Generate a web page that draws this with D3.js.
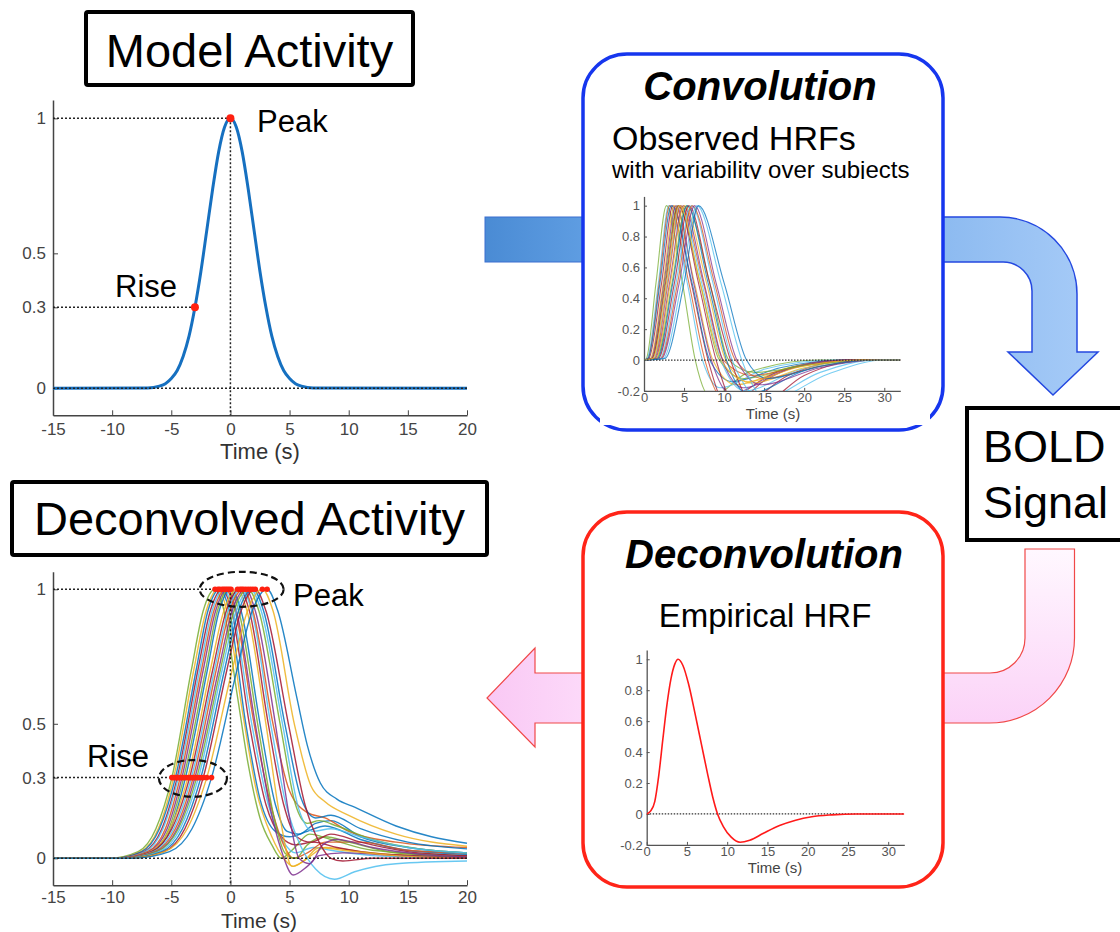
<!DOCTYPE html>
<meta charset="utf-8">
<html>
<body style="margin:0;background:#fff">
<div id="chartContainer"></div>
<script src="https://cdn.jsdelivr.net/npm/d3@7"></script>
<script type="text/javascript">

  // ---- data ----
  var mainXTicks = [-15, -10, -5, 0, 5, 10, 15, 20];
  var mainYTicks = [0, 0.3, 0.5, 1];
  var insetXTicks = [0, 5, 10, 15, 20, 25, 30];
  var insetYTicks = [-0.2, 0, 0.2, 0.4, 0.6, 0.8, 1];

  // model activity (gaussian-like bump)
  var modelT = [-15,-7,-6,-5.5,-5,-4.5,-4,-3.5,-3,-2.5,-2,-1.5,-1,-0.5,0,0.5,1,1.5,2,2.5,3,3.5,4,4.5,5,5.5,6,7,20];
  var modelV = [0,0.001,0.008,0.017,0.036,0.066,0.118,0.193,0.3,0.432,0.585,0.739,0.875,0.967,1,0.967,0.875,0.739,0.585,0.432,0.3,0.193,0.118,0.066,0.036,0.017,0.008,0.001,0];
  var modelMarks = [[0, 1], [-3, 0.3]];

  var C = {blue:"#0072BD", orange:"#D95319", yellow:"#EDB120", purple:"#7E2F8E",
           green:"#77AC30", cyan:"#4DBEEE", red:"#A2142F"};

  // deconvolved activity, one line per subject
  var deconvColors = ["green","yellow","blue","red","cyan","orange","purple","green","blue","yellow",
                      "red","cyan","orange","purple","green","cyan","blue","red","yellow","blue"];
  var deconvCurves = [
    [[-15,0],[-10.3,0],[-7.8,0.025],[-6.3,0.11],[-4.95,0.3],[-3.3,0.7],[-2.3,0.92],[-1.3,1],[-0.6,0.93],[0.6,0.6],[1.5,0.35],[2.5,0.15],[3.5,0.05],[4.3,0],[5.2,0.03],[6.7,0.09],[8.5,0.07],[12,0.03],[20,0.01]],
    [[-15,0],[-10.1,0],[-7.6,0.025],[-6.1,0.11],[-4.8,0.3],[-3.1,0.7],[-2.05,0.92],[-1.05,1],[-0.3,0.92],[1.0,0.55],[2.2,0.25],[3.5,0.08],[4.5,0],[5.3,-0.03],[6.5,0],[8,0.04],[12,0.02],[20,0.005]],
    [[-15,0],[-10,0],[-7.5,0.025],[-6,0.11],[-4.65,0.3],[-2.9,0.7],[-1.9,0.92],[-0.9,1],[-0.1,0.92],[1.3,0.5],[2.5,0.22],[3.8,0.1],[5,0.08],[6.5,0.1],[8,0.12],[11,0.07],[15,0.03],[20,0.015]],
    [[-15,0],[-9.8,0],[-7.3,0.025],[-5.8,0.11],[-4.5,0.3],[-2.75,0.7],[-1.7,0.92],[-0.7,1],[0.1,0.92],[1.6,0.5],[3,0.2],[4.3,0.08],[5.5,0.05],[7,0.06],[9,0.04],[13,0.015],[20,0.005]],
    [[-15,0],[-9.7,0],[-7.2,0.025],[-5.7,0.11],[-4.4,0.3],[-2.6,0.7],[-1.55,0.92],[-0.55,1],[0.2,0.92],[1.8,0.5],[3.2,0.2],[4.5,0.06],[5.5,0.02],[7,0.04],[8.5,0.03],[12,0.01],[20,0]],
    [[-15,0],[-9.6,0],[-7,0.025],[-5.5,0.11],[-4.25,0.3],[-2.45,0.7],[-1.4,0.92],[-0.4,1],[0.4,0.92],[2,0.5],[3.4,0.2],[4.5,0.05],[5.3,0],[6.5,0.02],[8,0.06],[11,0.06],[15,0.03],[20,0.02]],
    [[-15,0],[-9.4,0],[-6.9,0.025],[-5.35,0.11],[-4.1,0.3],[-2.3,0.7],[-1.25,0.92],[-0.25,1],[0.5,0.92],[2.1,0.5],[3.3,0.2],[4.3,0.03],[5.3,-0.062],[6.5,-0.03],[7.5,0.01],[9.5,0.02],[14,0.01],[20,0.003]],
    [[-15,0],[-9.3,0],[-6.7,0.025],[-5.2,0.11],[-3.95,0.3],[-2.1,0.7],[-1.1,0.92],[-0.1,1],[0.7,0.92],[2.3,0.5],[3.7,0.15],[4.6,0.02],[5.5,0],[6.5,0.05],[8,0.08],[10,0.06],[14,0.02],[20,0.005]],
    [[-15,0],[-9.1,0],[-6.6,0.025],[-5.05,0.11],[-3.8,0.3],[-1.95,0.7],[-0.95,0.92],[0.05,1],[0.9,0.92],[2.5,0.5],[3.8,0.2],[4.8,0.1],[5.8,0.09],[7.2,0.13],[8.5,0.14],[11,0.08],[15,0.04],[20,0.02]],
    [[-15,0],[-9.6,0],[-6.8,0.025],[-5.1,0.11],[-3.6,0.3],[-1.7,0.7],[-0.55,0.92],[0.6,1],[1.4,0.92],[3,0.5],[4.2,0.15],[5.2,-0.03],[6.2,-0.01],[7.5,0.04],[9.5,0.03],[14,0.01],[20,0]],
    [[-15,0],[-9.6,0],[-6.7,0.025],[-4.95,0.11],[-3.45,0.3],[-1.5,0.7],[-0.35,0.92],[0.8,1],[1.6,0.92],[3.2,0.5],[4.5,0.2],[5.6,0.08],[6.8,0.06],[8.5,0.09],[11,0.06],[15,0.025],[20,0.01]],
    [[-15,0],[-9.4,0],[-6.5,0.025],[-4.8,0.11],[-3.3,0.3],[-1.35,0.7],[-0.2,0.92],[0.95,1],[1.8,0.92],[3.4,0.5],[4.7,0.2],[6,0.04],[7.2,-0.04],[8.8,-0.078],[10.5,-0.05],[14,-0.02],[20,-0.01]],
    [[-15,0],[-9.3,0],[-6.4,0.025],[-4.65,0.11],[-3.15,0.3],[-1.2,0.7],[-0.05,0.92],[1.1,1],[1.9,0.92],[3.6,0.5],[5,0.25],[6.5,0.17],[8,0.15],[10,0.1],[14,0.06],[20,0.04]],
    [[-15,0],[-9.1,0],[-6.25,0.025],[-4.5,0.11],[-3,0.3],[-1,0.7],[0.15,0.92],[1.3,1],[2.1,0.92],[3.8,0.5],[5,0.15],[5.8,0],[6.7,-0.02],[7.8,0.05],[9,0.07],[12,0.04],[16,0.015],[20,0.005]],
    [[-15,0],[-9.1,0],[-6.2,0.025],[-4.4,0.11],[-2.85,0.3],[-0.85,0.7],[0.3,0.92],[1.5,1],[2.4,0.92],[4.2,0.5],[5.5,0.2],[6.5,0.13],[7.5,0.14],[9,0.12],[12,0.07],[16,0.035],[20,0.02]],
    [[-15,0],[-9,0],[-6,0.025],[-4.25,0.11],[-2.7,0.3],[-0.7,0.7],[0.5,0.92],[1.7,1],[2.6,0.92],[4.4,0.5],[5.8,0.18],[7,0.1],[8.5,0.11],[11,0.08],[15,0.04],[20,0.02]],
    [[-15,0],[-8.8,0],[-5.8,0.025],[-4.05,0.11],[-2.5,0.3],[-0.5,0.7],[0.7,0.92],[1.9,1],[2.8,0.92],[4.6,0.5],[6,0.22],[7.2,0.15],[8.5,0.16],[11,0.11],[15,0.06],[20,0.035]],
    [[-15,0],[-8.6,0],[-5.6,0.025],[-3.85,0.11],[-2.3,0.3],[-0.3,0.7],[0.9,0.92],[2.1,1],[3,0.92],[4.9,0.5],[6.3,0.2],[7.5,0.06],[8.5,0],[9.5,-0.01],[12,0],[20,0]],
    [[-15,0],[-8.7,0],[-5.55,0.025],[-3.65,0.11],[-2,0.3],[0.15,0.7],[1.45,0.92],[2.7,1],[3.6,0.92],[5.4,0.5],[6.8,0.27],[8,0.21],[10,0.16],[14,0.09],[20,0.045]],
    [[-15,0],[-8.3,0],[-5.15,0.025],[-3.25,0.11],[-1.6,0.3],[0.55,0.7],[1.85,0.92],[3.1,1],[4,0.92],[5.6,0.6],[6.5,0.42],[7.6,0.28],[9,0.22],[10.5,0.19],[14,0.12],[17,0.08],[20,0.056]]
  ];

  // observed HRFs: landmark times per subject
  // [onset, half-rise, peak, half-fall, zero cross, min time, min value, recovery time, recovery value, back to 0]
  var hrfLevels = [0.01, 0.5, 1, 0.5, 0];
  var hrfColors = ["green","cyan","orange","red","blue","yellow","purple","green","red","cyan","orange",
                   "purple","yellow","green","blue","red","cyan","orange","purple","cyan","blue","yellow"];
  var hrfRows = [
    [0.3,1.5,2.8,4.8,6.4,8.3,-0.24,13,-0.08,22],
    [0.4,1.8,3.1,5.4,7.3,9.5,-0.18,15,-0.06,24],
    [0.5,1.9,3.2,5.6,7.6,10,-0.26,16,-0.09,25],
    [0.6,2.2,3.6,5.9,8.0,10.4,-0.3,16,-0.1,25],
    [0.5,2.0,3.4,6.0,8.2,11,-0.14,17,-0.05,25],
    [0.8,2.4,3.8,6.3,8.6,11.5,-0.16,18,-0.05,26],
    [0.9,2.5,4.0,6.2,8.4,10.8,-0.22,17,-0.07,25],
    [1.0,2.6,4.2,7.0,9.4,12.5,-0.12,19,-0.04,27],
    [1.0,2.7,4.3,6.8,9.0,11.6,-0.3,18,-0.1,26],
    [1.2,2.9,4.5,7.2,9.6,12.6,-0.2,19,-0.07,27],
    [1.3,3.0,4.6,7.4,9.9,13.5,-0.1,20,-0.035,27],
    [1.4,3.2,4.9,7.5,9.8,12.4,-0.18,18,-0.06,26],
    [1.5,3.3,5.0,7.8,10.2,13.4,-0.15,20,-0.05,28],
    [1.6,3.5,5.3,8.2,10.6,13.8,-0.08,21,-0.03,28],
    [1.7,3.6,5.4,8.0,10.3,13.0,-0.22,20,-0.07,28],
    [1.8,3.8,5.6,8.2,10.8,14.0,-0.3,20,-0.1,28],
    [2.0,4.0,5.9,8.6,11.0,14.8,-0.25,22,-0.08,29],
    [2.1,4.2,6.0,8.8,11.4,15,-0.12,22,-0.04,29],
    [2.2,4.4,6.3,9.0,11.6,14.6,-0.16,22,-0.05,29],
    [2.4,4.7,6.6,9.6,12.2,15.5,-0.26,23,-0.09,30],
    [2.6,5.0,6.8,10.0,12.8,15.4,-0.12,22,-0.04,29],
    [1.1,2.8,4.4,7.0,9.6,13,-0.14,19,-0.05,27]
  ];

  // empirical (canonical) HRF
  var empT = [0,0.5,1,1.5,2,2.5,3,3.5,3.9,4.5,5.2,6,6.8,7.6,8.2,8.8,9.5,10.5,11.6,12.8,14.5,16.5,18.5,20.5,23,26,32];
  var empV = [0,0.02,0.08,0.25,0.48,0.7,0.87,0.97,1,0.96,0.84,0.65,0.45,0.25,0.11,0,-0.08,-0.15,-0.183,-0.17,-0.125,-0.075,-0.04,-0.018,-0.006,0,0];

  var FONT = "'Liberation Sans', Arial, Helvetica, sans-serif";

  var svg = d3.select("#chartContainer").append("svg")
    .attr("width", 1120).attr("height", 932)
    .style("font-family", FONT)
    .style("background", "#fff");

  var defs = svg.append("defs");
  function grad(id, x1, y1, x2, y2, stops) {
    var g = defs.append("linearGradient").attr("id", id)
      .attr("gradientUnits", "userSpaceOnUse")
      .attr("x1", x1).attr("y1", y1).attr("x2", x2).attr("y2", y2);
    stops.forEach(function (s) { g.append("stop").attr("offset", s[0]).attr("stop-color", s[1]); });
  }
  grad("gStub", 485, 0, 600, 0, [[0, "#4a8bd4"], [1, "#62a0e4"]]);
  grad("gBlue", 940, 0, 1100, 0, [[0, "#8cbaf0"], [1, "#a8ccf8"]]);
  grad("gPinkV", 0, 549, 0, 725, [[0, "#fff8ff"], [1, "#fbd2f7"]]);
  grad("gPinkL", 487, 0, 600, 0, [[0, "#f9c8f4"], [1, "#fddcfa"]]);

  // ---- arrows (behind the boxes) ----
  svg.append("rect").attr("x", 485).attr("y", 217).attr("width", 120).attr("height", 45)
    .attr("fill", "url(#gStub)").attr("stroke", "#3a6fd0").attr("stroke-width", 1);
  svg.append("path")
    .attr("d", "M930,217 L1000,217 A77,77 0 0 1 1077,294 L1077,352 L1098,352 L1053,395 L1008,352 L1032,352 L1032,291 A29,29 0 0 0 1003,262 L930,262 Z")
    .attr("fill", "url(#gBlue)").attr("stroke", "#2448e0").attr("stroke-width", 1.5);
  svg.append("path")
    .attr("d", "M1025,549 L1074.5,549 L1074.5,638 A85,85 0 0 1 989.5,723 L930,723 L930,673 L990,673 A35,35 0 0 0 1025,638 Z")
    .attr("fill", "url(#gPinkV)").attr("stroke", "#f04848").attr("stroke-width", 1.2);
  svg.append("path")
    .attr("d", "M600,673 L535,673 L535,648 L487,698 L535,747 L535,723 L600,723 Z")
    .attr("fill", "url(#gPinkL)").attr("stroke", "#f04848").attr("stroke-width", 1.2);

  // ---- boxes ----
  svg.append("rect").attr("x", 583).attr("y", 54).attr("width", 360).attr("height", 376)
    .attr("rx", 44).attr("fill", "#fff").attr("stroke", "#1636ee").attr("stroke-width", 3.5);
  svg.append("rect").attr("x", 583).attr("y", 512).attr("width", 360).attr("height", 375)
    .attr("rx", 44).attr("fill", "#fff").attr("stroke", "#ff2418").attr("stroke-width", 3.5);
  svg.append("rect").attr("x", 967).attr("y", 408).attr("width", 180).attr("height", 132)
    .attr("fill", "#fff").attr("stroke", "#000").attr("stroke-width", 4);
  svg.append("rect").attr("x", 86).attr("y", 12).attr("width", 327).attr("height", 73).attr("rx", 2)
    .attr("fill", "#fff").attr("stroke", "#000").attr("stroke-width", 4);
  svg.append("rect").attr("x", 12).attr("y", 482).attr("width", 475).attr("height", 73).attr("rx", 2)
    .attr("fill", "#fff").attr("stroke", "#000").attr("stroke-width", 4);

  // ---- text ----
  function label(x, y, str, size, opts) {
    opts = opts || {};
    return svg.append("text").attr("x", x).attr("y", y)
      .attr("text-anchor", opts.anchor || "start")
      .style("font-size", size + "px")
      .style("font-weight", opts.bold ? "bold" : "normal")
      .style("font-style", opts.italic ? "italic" : "normal")
      .style("fill", "#000")
      .text(str);
  }
  label(249.5, 67, "Model Activity", 47, {anchor: "middle"});
  label(249.5, 535, "Deconvolved Activity", 47, {anchor: "middle"});
  label(983, 462, "BOLD", 45);
  label(983, 518, "Signal", 45);
  label(760, 100, "Convolution", 40, {anchor: "middle", bold: true, italic: true});
  label(612, 150, "Observed HRFs", 34);
  label(612, 178, "with variability over subjects", 24);
  label(764, 568, "Deconvolution", 40, {anchor: "middle", bold: true, italic: true});
  label(765, 627, "Empirical HRF", 33, {anchor: "middle"});

  // ---- main plots ----
  function mainAxes(g, x, y, pad) {
    var ax = g.append("g").attr("transform", "translate(0," + y.range()[0] + ")")
      .call(d3.axisBottom(x).tickValues(mainXTicks).tickSize(-5).tickSizeOuter(0).tickPadding(pad)
        .tickFormat(function (d) { return String(d); }));
    var ay = g.append("g").attr("transform", "translate(" + x.range()[0] + ",0)")
      .call(d3.axisLeft(y).tickValues(mainYTicks).tickSize(-5).tickSizeOuter(0).tickPadding(7)
        .tickFormat(function (d) { return String(d); }));
    [ax, ay].forEach(function (a) {
      a.selectAll("text").style("font-size", "17px").style("fill", "#444").style("font-family", FONT);
      a.select(".domain").attr("stroke", "#444").attr("stroke-width", 1.5);
      a.selectAll(".tick line").attr("stroke", "#444");
    });
  }
  function dotted(g, x1, y1, x2, y2) {
    g.append("line").attr("x1", x1).attr("y1", y1).attr("x2", x2).attr("y2", y2)
      .attr("stroke", "#222").attr("stroke-width", 1.5).attr("stroke-dasharray", "2,2");
  }

  // top: model activity
  var xTop = d3.scaleLinear().domain([-15, 20]).range([53, 467]);
  var yTop = d3.scaleLinear().domain([-0.1, 1.068]).range([415.3, 100]);
  var gTop = svg.append("g");
  mainAxes(gTop, xTop, yTop, 8);
  var modelPts = modelT.map(function (t, i) { return [t, modelV[i]]; });
  gTop.append("path").datum(modelPts)
    .attr("d", d3.line().x(function (d) { return xTop(d[0]); }).y(function (d) { return yTop(d[1]); }).curve(d3.curveMonotoneX))
    .attr("fill", "none").attr("stroke", "#1670c0").attr("stroke-width", 3);
  dotted(gTop, xTop(-15), yTop(0), xTop(20), yTop(0));
  dotted(gTop, xTop(-15), yTop(1), xTop(0), yTop(1));
  dotted(gTop, xTop(-15), yTop(0.3), xTop(modelMarks[1][0]), yTop(0.3));
  dotted(gTop, xTop(0), yTop(1), xTop(0), yTop(-0.1));
  gTop.selectAll("circle.mark").data(modelMarks).enter().append("circle")
    .attr("cx", function (d) { return xTop(d[0]); }).attr("cy", function (d) { return yTop(d[1]); })
    .attr("r", 4).attr("fill", "#ff2010");
  label(257, 132, "Peak", 31);
  label(115, 297, "Rise", 31);
  label(260, 459, "Time (s)", 22, {anchor: "middle"}).style("fill", "#333");

  // bottom: deconvolved activity
  var xBot = d3.scaleLinear().domain([-15, 20]).range([53, 467]);
  var yBot = d3.scaleLinear().domain([-0.1, 1.065]).range([885.2, 571.8]);
  var gBot = svg.append("g");
  mainAxes(gBot, xBot, yBot, 6);
  var lineBot = d3.line().x(function (d) { return xBot(d[0]); }).y(function (d) { return yBot(d[1]); }).curve(d3.curveMonotoneX);
  gBot.selectAll("path.subj").data(deconvCurves).enter().append("path")
    .attr("d", lineBot).attr("fill", "none")
    .attr("stroke", function (d, i) { return C[deconvColors[i]]; })
    .attr("stroke-width", 1.4).attr("stroke-opacity", 0.85);
  var riseT = deconvCurves.map(function (c) { return c.filter(function (p) { return p[1] === 0.3; })[0][0]; });
  var peakT = deconvCurves.map(function (c) { return c.filter(function (p) { return p[1] === 1; })[0][0]; });
  dotted(gBot, xBot(-15), yBot(0), xBot(20), yBot(0));
  dotted(gBot, xBot(-15), yBot(1), xBot(d3.min(peakT)), yBot(1));
  dotted(gBot, xBot(-15), yBot(0.3), xBot(d3.min(riseT)), yBot(0.3));
  dotted(gBot, xBot(0), yBot(1), xBot(0), yBot(-0.1));
  gBot.selectAll("circle.rise").data(riseT).enter().append("circle")
    .attr("cx", function (d) { return xBot(d); }).attr("cy", yBot(0.3)).attr("r", 2.8).attr("fill", "#ff2010");
  gBot.selectAll("circle.peak").data(peakT).enter().append("circle")
    .attr("cx", function (d) { return xBot(d); }).attr("cy", yBot(1)).attr("r", 2.8).attr("fill", "#ff2010");
  gBot.append("ellipse").attr("cx", xBot(0.95)).attr("cy", yBot(1)).attr("rx", 42).attr("ry", 17.5)
    .attr("fill", "none").attr("stroke", "#111").attr("stroke-width", 2.2).attr("stroke-dasharray", "7,4");
  gBot.append("ellipse").attr("cx", xBot(-3.17)).attr("cy", yBot(0.297)).attr("rx", 34).attr("ry", 18.3)
    .attr("fill", "none").attr("stroke", "#111").attr("stroke-width", 2.2).attr("stroke-dasharray", "7,4");
  label(293, 606, "Peak", 31);
  label(87, 767, "Rise", 31);
  label(259, 928, "Time (s)", 21, {anchor: "middle"}).style("fill", "#333");

  // ---- insets ----
  function inset(x, y, clipId, timeX, timeY) {
    var g = svg.append("g");
    defs.append("clipPath").attr("id", clipId).append("rect")
      .attr("x", x.range()[0]).attr("y", y.range()[1])
      .attr("width", x.range()[1] - x.range()[0]).attr("height", y.range()[0] - y.range()[1]);
    var ax = g.append("g").attr("transform", "translate(0," + y.range()[0] + ")")
      .call(d3.axisBottom(x).tickValues(insetXTicks).tickSize(-3).tickSizeOuter(0).tickPadding(2)
        .tickFormat(function (d) { return String(d); }));
    var ay = g.append("g").attr("transform", "translate(" + x.range()[0] + ",0)")
      .call(d3.axisLeft(y).tickValues(insetYTicks).tickSize(-3).tickSizeOuter(0).tickPadding(4)
        .tickFormat(function (d) { return String(d); }));
    [ax, ay].forEach(function (a) {
      a.selectAll("text").style("font-size", "13px").style("fill", "#555").style("font-family", FONT);
      a.select(".domain").attr("stroke", "#555").attr("stroke-width", 1.3);
      a.selectAll(".tick line").attr("stroke", "#555");
    });
    g.append("text").attr("x", timeX).attr("y", timeY).attr("text-anchor", "middle")
      .style("font-size", "15px").style("fill", "#444").text("Time (s)");
    var plot = g.append("g").attr("clip-path", "url(#" + clipId + ")");
    return plot;
  }
  function insetZero(plot, x, y) {
    plot.append("line").attr("x1", x(0)).attr("x2", x(32)).attr("y1", y(0)).attr("y2", y(0))
      .attr("stroke", "#333").attr("stroke-width", 1.2).attr("stroke-dasharray", "1.5,1.5");
  }

  // white backing for the top inset (clips the subtitle descenders as in the figure)
  svg.append("rect").attr("x", 600).attr("y", 179).attr("width", 330).attr("height", 246).attr("fill", "#fff");

  var xH = d3.scaleLinear().domain([0, 32]).range([644, 900.3]);
  var yH = d3.scaleLinear().domain([-0.2, 1.06]).range([390.9, 196.4]);
  var pH = inset(xH, yH, "clipH", 773, 419);
  var lineH = d3.line().x(function (d) { return xH(d[0]); }).y(function (d) { return yH(d[1]); }).curve(d3.curveMonotoneX);
  var hrfCurves = hrfRows.map(function (r) {
    return [[0, 0], [r[0], hrfLevels[0]], [r[1], hrfLevels[1]], [r[2], hrfLevels[2]], [r[3], hrfLevels[3]],
            [r[4], hrfLevels[4]], [r[5], r[6]], [r[7], r[8]], [r[9], 0], [32, 0]];
  });
  pH.selectAll("path.hrf").data(hrfCurves).enter().append("path")
    .attr("d", lineH).attr("fill", "none")
    .attr("stroke", function (d, i) { return C[hrfColors[i]]; })
    .attr("stroke-width", 1.1).attr("stroke-opacity", 0.75);
  insetZero(pH, xH, yH);

  var xE = d3.scaleLinear().domain([0, 32]).range([646.7, 904.3]);
  var yE = d3.scaleLinear().domain([-0.2, 1.06]).range([844.9, 650]);
  var pE = inset(xE, yE, "clipE", 775, 873);
  insetZero(pE, xE, yE);
  pE.append("path").datum(empT.map(function (t, i) { return [t, empV[i]]; }))
    .attr("d", d3.line().x(function (d) { return xE(d[0]); }).y(function (d) { return yE(d[1]); }).curve(d3.curveMonotoneX))
    .attr("fill", "none").attr("stroke", "#ff1a1a").attr("stroke-width", 1.6);

</script>
</body>
</html>
